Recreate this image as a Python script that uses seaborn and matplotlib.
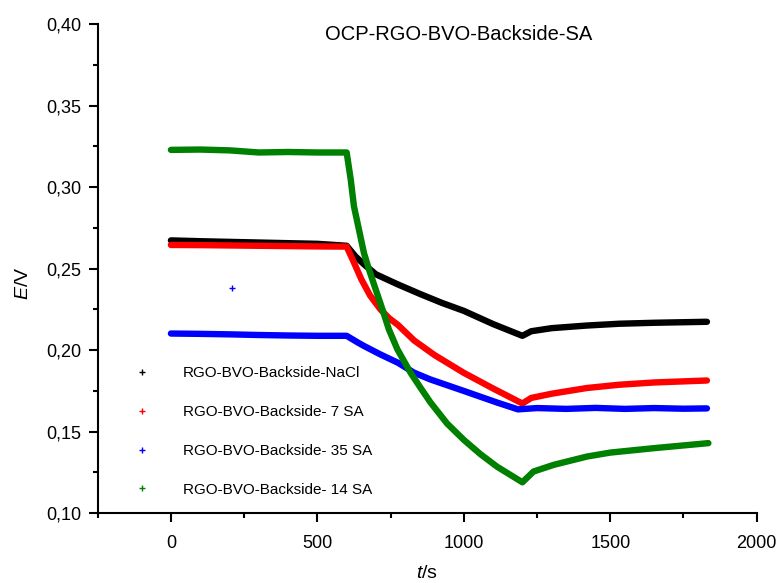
import matplotlib
matplotlib.use("Agg")
import matplotlib.pyplot as plt
from matplotlib.lines import Line2D
from matplotlib.ticker import MultipleLocator, FuncFormatter
import pandas as pd
import seaborn as sns

# ---------------------------------------------------------------- data
t_nacl = [0, 100, 200, 300, 400, 500, 600, 630, 660, 700, 775, 850, 925,
          1000, 1100, 1200, 1230, 1300, 1420, 1530, 1650, 1830]
e_nacl = [0.2673, 0.2668, 0.2664, 0.2660, 0.2656, 0.2652, 0.2640, 0.2575,
          0.2525, 0.2465, 0.2403, 0.2345, 0.2290, 0.2241, 0.2160, 0.2088,
          0.2116, 0.2135, 0.2151, 0.2162, 0.2168, 0.2174]

t_7sa = [0, 100, 200, 300, 400, 500, 600, 625, 650, 680, 715, 745, 775, 830,
         900, 1000, 1100, 1200, 1230, 1300, 1420, 1530, 1650, 1830]
e_7sa = [0.2645, 0.2644, 0.2642, 0.2640, 0.2638, 0.2636, 0.2635, 0.2537,
         0.2435, 0.2335, 0.2251, 0.2196, 0.2155, 0.2060, 0.1970, 0.1861,
         0.1765, 0.1673, 0.1707, 0.1733, 0.1768, 0.1788, 0.1802, 0.1814]

t_35sa = [0, 100, 200, 300, 400, 500, 600, 640, 660, 715, 775, 830, 885,
          1000, 1115, 1185, 1250, 1350, 1450, 1550, 1650, 1750, 1830]
e_35sa = [0.2102, 0.2100, 0.2097, 0.2093, 0.2090, 0.2088, 0.2088, 0.2045,
          0.2025, 0.1974, 0.1923, 0.1862, 0.1821, 0.1750, 0.1678, 0.1637,
          0.1645, 0.1640, 0.1646, 0.1640, 0.1645, 0.1641, 0.1643]

t_14sa = [0, 100, 200, 300, 400, 500, 600, 614, 625, 642, 659, 676, 699,
          722, 744, 773, 818, 852, 886, 943, 1000, 1057, 1114, 1200, 1238,
          1307, 1421, 1500, 1648, 1835]
e_14sa = [0.3228, 0.3230, 0.3225, 0.3212, 0.3215, 0.3212, 0.3212, 0.3045,
          0.2881, 0.2739, 0.2596, 0.2496, 0.2373, 0.2251, 0.2128, 0.2006,
          0.1862, 0.1770, 0.1680, 0.1550, 0.1450, 0.1362, 0.1285, 0.1190,
          0.1256, 0.1297, 0.1348, 0.1372, 0.1399, 0.1430]

# single stray point of the 35 SA run
t_stray = [210]
e_stray = [0.2384]

labels = ["RGO-BVO-Backside-NaCl", "RGO-BVO-Backside- 7 SA",
          "RGO-BVO-Backside- 35 SA", "RGO-BVO-Backside- 14 SA"]
colors = ["#000000", "#ff0000", "#0000ff", "#008000"]

df = pd.concat([
    pd.DataFrame({"t": t, "E": e, "series": lab})
    for t, e, lab in zip([t_nacl, t_7sa, t_35sa, t_14sa],
                         [e_nacl, e_7sa, e_35sa, e_14sa], labels)
], ignore_index=True)

# ---------------------------------------------------------------- style
sns.set_style("ticks", {"axes.edgecolor": "black", "text.color": "black",
                        "xtick.color": "black", "ytick.color": "black",
                        "axes.labelcolor": "black"})
plt.rcParams["font.family"] = ["Liberation Sans", "DejaVu Sans"]
plt.rcParams["mathtext.fontset"] = "custom"
plt.rcParams["mathtext.rm"] = "Liberation Sans"
plt.rcParams["mathtext.it"] = "Liberation Sans:italic"

fig = plt.figure(figsize=(7.79, 5.83), dpi=100)
ax = fig.add_axes([0.1254, 0.1196, 0.8460, 0.8393])

sns.lineplot(data=df, x="t", y="E", hue="series", palette=colors,
             hue_order=labels, linewidth=4.6, sort=False, estimator=None,
             legend=False, ax=ax)
sns.scatterplot(x=t_stray, y=e_stray, marker="+", color="#0000ff", s=25,
                linewidth=1, ax=ax)

ax.set_xlim(-250, 2000)
ax.set_ylim(0.10, 0.40)
ax.xaxis.set_major_locator(MultipleLocator(500))
ax.xaxis.set_minor_locator(MultipleLocator(250))
ax.yaxis.set_major_locator(MultipleLocator(0.05))
ax.yaxis.set_minor_locator(MultipleLocator(0.025))
ax.yaxis.set_major_formatter(FuncFormatter(lambda v, p: f"{v:.2f}".replace(".", ",")))

sns.despine(ax=ax)
for s in ["left", "bottom"]:
    ax.spines[s].set_linewidth(1.5)
ax.tick_params(which="major", direction="out", length=6.8, width=1.5,
               labelsize=13, pad=4.8, colors="black")
ax.tick_params(which="minor", direction="out", length=3.3, width=1.5,
               colors="black")
ax.tick_params(axis="x", which="major", pad=9)

ax.set_xlabel(r"$\mathit{t}$/s", fontsize=14, color="black")
ax.set_ylabel(r"$\mathit{E}$/V", fontsize=14, color="black")
ax.xaxis.set_label_coords(0.5, -0.105)
ax.yaxis.set_label_coords(-0.099, 0.469)

ax.text(0.548, 0.979, "OCP-RGO-BVO-Backside-SA", transform=ax.transAxes,
        ha="center", va="center", fontsize=14.5, color="black")

handles = [Line2D([], [], ls="", marker="+", color=c, markersize=5,
                  markeredgewidth=1) for c in colors]
leg = ax.legend(handles, labels, loc="upper left",
                bbox_to_anchor=(0.056, 0.300), frameon=False, fontsize=11,
                handlelength=1.0, handletextpad=2.14, labelspacing=1.62,
                borderpad=0, borderaxespad=0)
for txt in leg.get_texts():
    txt.set_color("black")

fig.savefig("out.png", dpi=100)
plt.close(fig)
